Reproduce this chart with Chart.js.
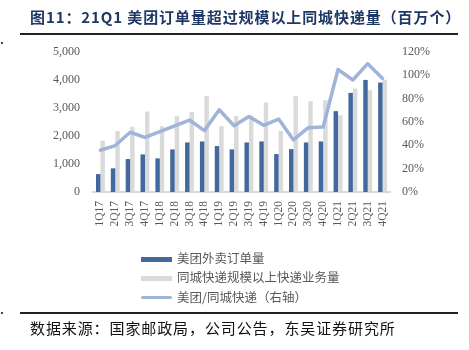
<!DOCTYPE html>
<html><head><meta charset="utf-8">
<script src="https://cdn.jsdelivr.net/npm/chart.js@4/dist/chart.umd.min.js"></script>
<style>
html,body{margin:0;padding:0;background:#fff;}
#wrap{position:relative;width:469px;height:350px;overflow:hidden;background:#fff;}
#c{position:absolute;left:0;top:0;}
.title{position:absolute;left:30px;top:6px;font-family:"Noto Sans CJK SC";font-weight:bold;font-size:15px;color:#1F3864;white-space:nowrap;letter-spacing:0.9px;}
.rule{position:absolute;left:20px;width:438px;height:2px;background:#222;}
.dot{position:absolute;left:1px;width:2px;height:2px;background:#444;}
.footer{position:absolute;left:30px;top:317px;font-family:"Noto Sans CJK SC";font-size:15px;color:#111;white-space:nowrap;letter-spacing:0.9px;}
.leg{position:absolute;left:141px;height:14px;font-family:"Noto Sans CJK SC";font-size:12.5px;color:#595959;white-space:nowrap;}
.leg .sw{position:absolute;left:0;width:31px;}
.leg .tx{position:absolute;left:36px;top:-2px;line-height:16px;}
</style></head>
<body>
<div id="wrap">
<canvas id="c" width="469" height="350" style="width:469px;height:350px;"></canvas>
<div class="title">图11：21Q1 美团订单量超过规模以上同城快递量（百万个）</div>
<div class="rule" style="top:33px;"></div>
<div class="dot" style="top:42px;"></div>
<div class="rule" style="top:312px;"></div>
<div class="dot" style="top:312px;"></div>
<div class="footer">数据来源：国家邮政局，公司公告，东吴证券研究所</div>
<div class="leg" style="top:252px;"><div class="sw" style="top:5px;height:5px;background:#41699D;"></div><div class="tx">美团外卖订单量</div></div>
<div class="leg" style="top:271px;"><div class="sw" style="top:5px;height:5px;background:#DADADA;"></div><div class="tx">同城快递规模以上快递业务量</div></div>
<div class="leg" style="top:291px;"><div class="sw" style="top:5px;height:3px;border-radius:2px;background:#A0B4D8;"></div><div class="tx">美团/同城快递（右轴）</div></div>
</div>
<script>
const categories = ['1Q17','2Q17','3Q17','4Q17','1Q18','2Q18','3Q18','4Q18','1Q19','2Q19','3Q19','4Q19','1Q20','2Q20','3Q20','4Q20','1Q21','2Q21','3Q21','4Q21'];
const meituanOrders = [640, 845, 1176, 1343, 1200, 1520, 1770, 1806, 1640, 1520, 1770, 1806, 1354, 1532, 1770, 1806, 2887, 3540, 4003, 3908];
const intraCityExpress = [1830, 2175, 2330, 2875, 2350, 2710, 2860, 3430, 2350, 2710, 2730, 3195, 2175, 3420, 3243, 3280, 2744, 3695, 3635, 4003];
const ratioPct = [35.8, 39.8, 51.2, 46.9, 51.7, 56.6, 61.7, 52.6, 70.5, 56.8, 64.8, 57.2, 62.5, 44.6, 55.1, 55.7, 105, 96, 110, 97.3];
const leftTicks = [0, 1000, 2000, 3000, 4000, 5000];
const rightTicks = [0, 20, 40, 60, 80, 100, 120];

const serif = {family: '"Liberation Serif", "Times New Roman", serif', size: 12};
new Chart(document.getElementById('c'), {
  data: {
    labels: categories,
    datasets: [
      {type: 'bar', label: '美团外卖订单量', data: meituanOrders, backgroundColor: '#41699D', yAxisID: 'y', order: 1,
       categoryPercentage: 0.6, barPercentage: 1.0},
      {type: 'bar', label: '同城快递规模以上快递业务量', data: intraCityExpress, backgroundColor: '#DADADA', yAxisID: 'y', order: 1,
       categoryPercentage: 0.6, barPercentage: 1.0},
      {type: 'line', label: '美团/同城快递（右轴）', data: ratioPct, borderColor: '#A0B4D8', borderWidth: 3.5, pointRadius: 0,
       tension: 0, yAxisID: 'y1', order: 0, borderJoinStyle: 'round', borderCapStyle: 'round'}
    ]
  },
  options: {
    responsive: false, animation: false, devicePixelRatio: 1,
    layout: {padding: {top: 52, bottom: 108, left: 0, right: 0}},
    plugins: {legend: {display: false}, tooltip: {enabled: false}},
    scales: {
      x: {
        offset: true,
        grid: {display: false, drawTicks: false},
        border: {display: true, color: '#D9D9D9', width: 2},
        ticks: {autoSkip: false, minRotation: 90, maxRotation: 90, padding: 9, color: '#595959',
                font: {family: serif.family, size: 11.5}},
        afterFit: s => { s.height = 50; }
      },
      y: {
        position: 'left', min: 0, max: 5000,
        afterBuildTicks: s => { s.ticks = leftTicks.map(v => ({value: v})); },
        grid: {display: false, drawTicks: false},
        border: {display: false},
        ticks: {padding: 13, color: '#595959', font: serif,
                callback: v => v.toLocaleString('en-US')},
        afterFit: s => { s.width = 93; }
      },
      y1: {
        position: 'right', min: 0, max: 120,
        afterBuildTicks: s => { s.ticks = rightTicks.map(v => ({value: v})); },
        grid: {display: false, drawTicks: false},
        border: {display: false},
        ticks: {padding: 12, color: '#595959', font: serif, callback: v => v + '%'},
        afterFit: s => { s.width = 79; }
      }
    }
  }
});
</script>
</body></html>
